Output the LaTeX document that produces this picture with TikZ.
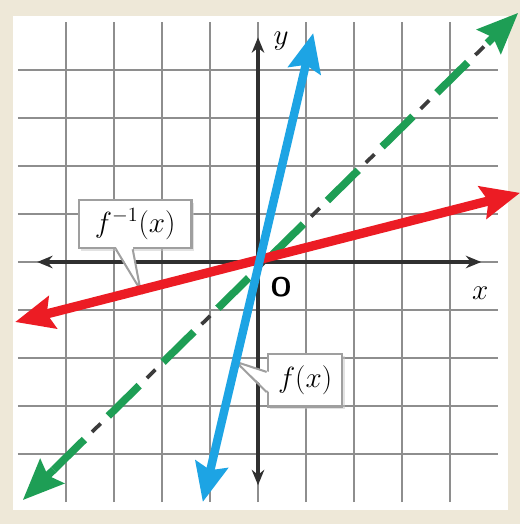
\documentclass[tikz,border=0pt]{standalone}
\usetikzlibrary{arrows.meta,shadows,calc}
\definecolor{bgc}{HTML}{EEE8D8}
\definecolor{gridc}{HTML}{8E8E8E}
\definecolor{bluel}{HTML}{1DA4E4}
\definecolor{redl}{HTML}{EC1C24}
\definecolor{greenl}{HTML}{1E9E55}
\definecolor{axisc}{HTML}{303030}
\definecolor{dashc}{HTML}{3C3C3C}
\begin{document}
\begin{tikzpicture}[
  gridline/.style={gridc, line width=1.6pt},
  axisline/.style={axisc, line width=1.8pt, {Stealth[length=0.32cm,width=0.26cm]}-{Stealth[length=0.32cm,width=0.26cm]}},
  funcline/.style={line width=5pt, {Stealth[length=0.8cm,width=0.68cm,inset=0.12cm]}-{Stealth[length=0.8cm,width=0.68cm,inset=0.12cm]}},
  labelbox/.style={draw=gray!75, line width=1.4pt, fill=white, font=\fontsize{17}{20}\selectfont,
     inner sep=2pt, drop shadow={shadow xshift=1.5pt, shadow yshift=-1.5pt, fill=gray!45}},
  tailside/.style={draw=gray!75, line width=1.2pt},
  axislabel/.style={font=\fontsize{16}{18}\selectfont, inner sep=1pt}
]
\useasboundingbox (-5.375,-5.458) rectangle (5.458,5.458);
\fill[bgc] (-5.375,-5.458) rectangle (5.458,5.458);
\fill[white] (-5.10,-5.17) rectangle (5.21,5.125);
% grid
\foreach \i in {-4,...,4} {
  \draw[gridline] (\i,-5) -- (\i,5);
  \draw[gridline] (-5,\i) -- (5,\i);
}
% axes
\coordinate (xl) at (-4.6,0);
\coordinate (xr) at (4.65,0);
\coordinate (yb) at (0,-4.65);
\coordinate (yt) at (0,4.68);
\draw[axisline] (xl) -- (xr);
\draw[axisline] (yb) -- (yt);
\node[axislabel] (ylab) at (0.48,4.6) {$y$};
\node[axislabel] (xlab) at (4.63,-0.65) {$x$};
\node[axislabel] (olab) at (0.48,-0.52) {\sffamily\bfseries O};
% label boxes with tails
\coordinate (t1) at (-2.45,-0.58);
\coordinate (t2) at (-0.46,-2.08);
\node[labelbox, minimum width=2.35cm, minimum height=1.0cm] (lab1) at (-2.56,0.79) {$f^{-1}(x)$};
\fill[white] ([xshift=-0.40cm,yshift=0.05cm]lab1.south) -- (t1) -- ([xshift=-0.05cm,yshift=0.05cm]lab1.south) -- cycle;
\draw[tailside] ([xshift=-0.40cm]lab1.south) -- (t1) -- ([xshift=-0.05cm]lab1.south);
\node[labelbox, minimum width=1.55cm, minimum height=1.1cm] (lab2) at (0.98,-2.46) {$f(x)$};
\fill[white] ([yshift=0.17cm,xshift=0.05cm]lab2.west) -- (t2) -- ([yshift=-0.25cm,xshift=0.05cm]lab2.west) -- cycle;
\draw[tailside] ([yshift=0.17cm]lab2.west) -- (t2) -- ([yshift=-0.25cm]lab2.west);
% y = x dashed green
\coordinate (g1) at (-4.9,-4.96);
\coordinate (g2) at (5.42,5.19);
\coordinate (g1a) at ($(g1)!0.9cm!(g2)$);
\coordinate (g2a) at ($(g2)!0.9cm!(g1)$);
\draw[greenl, line width=4.5pt, dash pattern=on 0.9cm off 0.7cm, dash phase=0cm] (g1a) -- (g2a);
\draw[dashc, line width=2.2pt, dash pattern=on 0.25cm off 1.35cm, dash phase=0.475cm] (g1a) -- (g2a);
\draw[greenl, line width=4.5pt, -{Stealth[length=0.85cm,width=0.7cm,inset=0.12cm]}] (g1a) -- (g1);
\draw[greenl, line width=4.5pt, -{Stealth[length=0.85cm,width=0.7cm,inset=0.12cm]}] (g2a) -- (g2);
% f^{-1}(x) red
\coordinate (r1) at (-5.06,-1.25);
\coordinate (r2) at (5.46,1.44);
\draw[redl, funcline, line width=5.5pt] (r1) -- (r2);
% f(x) blue
\coordinate (b1) at (-1.15,-5.0);
\coordinate (b2) at (1.15,4.77);
\draw[bluel, funcline] (b1) -- (b2);
\end{tikzpicture}
\end{document}
